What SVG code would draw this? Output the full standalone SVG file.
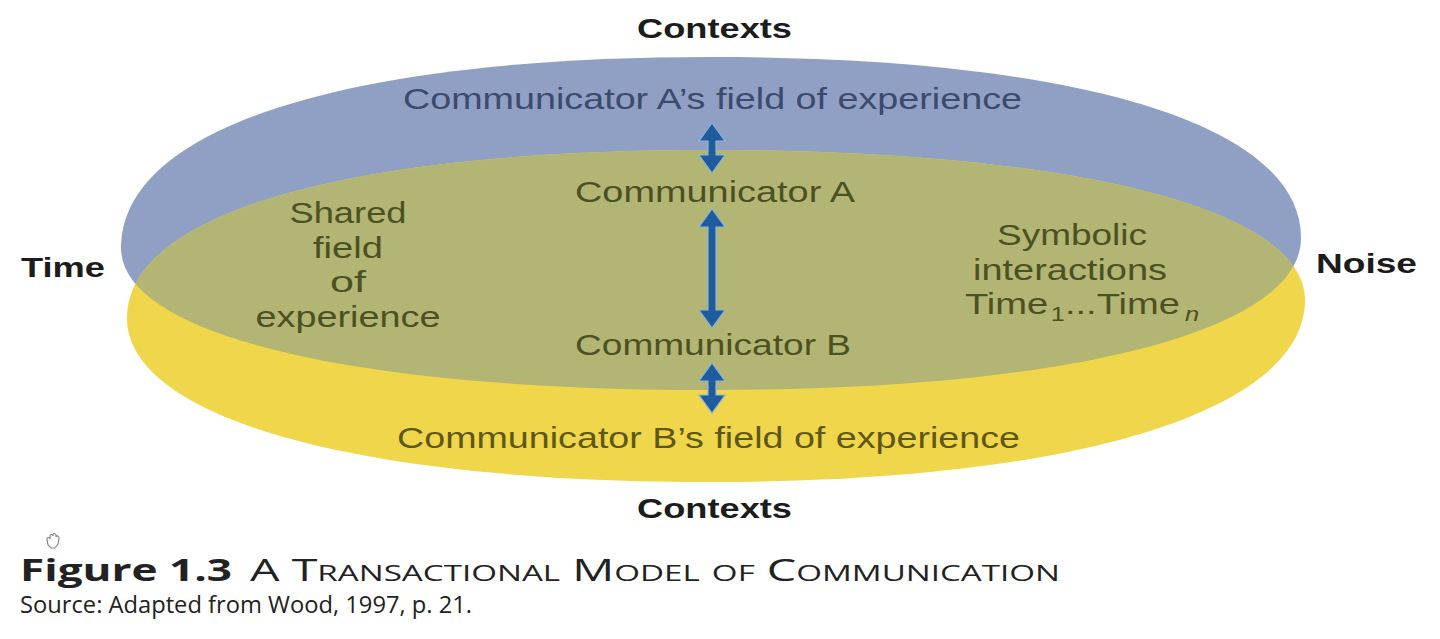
<svg xmlns="http://www.w3.org/2000/svg" width="1440" height="639" viewBox="0 0 1440 639">
  <defs>
    <style>
      .lbl { font-family: "Liberation Sans", Arial, sans-serif; font-weight: bold; font-size: 28px; fill: #1c1c1c; }
      .in { font-family: "Liberation Sans", Arial, sans-serif; font-size: 30px; }
      .ta { fill: #3c4a6c; }
      .to { fill: #4b5121; }
      .ty { fill: #5f5716; }
      .cap { font-family: "Open Sans", "Liberation Sans", sans-serif; fill: #222; }
      .arrow { fill: #1f5c9e; stroke: #8db3d9; stroke-width: 1.2; }
    </style>
    <path id="blueShape" d="M121,248 C121,128 344,57 710,57 C1078,57 1301,124 1301,238 C1301,329 1078,390 710,390 C344,390 121,333 121,248 Z"/>
    <path id="yellowShape" d="M127,318 C127,214 344,150 710,150 C1078,150 1305,210 1305,300 C1305,410 1078,482 710,482 C344,482 127,415 127,318 Z"/>
    <clipPath id="clipBlue">
      <use href="#blueShape"/>
    </clipPath>
  </defs>

  <rect width="1440" height="639" fill="#ffffff"/>

  <g id="field-a">
    <use href="#blueShape" fill="#8fa0c4"/>
  </g>
  <g id="field-b">
    <use href="#yellowShape" fill="#f0d64a"/>
  </g>
  <g id="shared-field">
    <use href="#yellowShape" fill="#b3b574" clip-path="url(#clipBlue)"/>
  </g>

  <g id="field-a-label">
    <text class="in ta" x="403" y="109" textLength="619" lengthAdjust="spacingAndGlyphs">Communicator A’s field of experience</text>
  </g>
  <g id="field-b-label">
    <text class="in ty" x="397" y="448" textLength="623" lengthAdjust="spacingAndGlyphs">Communicator B’s field of experience</text>
  </g>
  <g id="shared-label">
    <text class="in to" x="348" y="223" text-anchor="middle" textLength="117" lengthAdjust="spacingAndGlyphs">Shared</text>
    <text class="in to" x="348" y="258" text-anchor="middle" textLength="70" lengthAdjust="spacingAndGlyphs">field</text>
    <text class="in to" x="348" y="292" text-anchor="middle" textLength="36" lengthAdjust="spacingAndGlyphs">of</text>
    <text class="in to" x="348" y="327" text-anchor="middle" textLength="185" lengthAdjust="spacingAndGlyphs">experience</text>
  </g>
  <g id="communicator-a">
    <text class="in to" x="575" y="202" textLength="280" lengthAdjust="spacingAndGlyphs">Communicator A</text>
  </g>
  <g id="communicator-b">
    <text class="in to" x="575" y="355" textLength="276" lengthAdjust="spacingAndGlyphs">Communicator B</text>
  </g>
  <g id="symbolic-interactions">
    <text class="in to" x="1072" y="245" text-anchor="middle" textLength="150" lengthAdjust="spacingAndGlyphs">Symbolic</text>
    <text class="in to" x="1070" y="280" text-anchor="middle" textLength="194" lengthAdjust="spacingAndGlyphs">interactions</text>
    <g transform="translate(965,314) scale(1.27,1)">
      <text class="in to" x="0" y="0" font-size="29">Time<tspan font-size="20" dy="7" dx="2">1</tspan><tspan dy="-7">...Time</tspan><tspan font-size="20" font-style="italic" dy="7" dx="4">n</tspan></text>
    </g>
  </g>

  <g id="connectors">
    <path class="arrow" d="M712,123 L725,141 L716,141 L716,155 L725,155 L712,173 L699,155 L708,155 L708,141 L699,141 Z"/>
    <path class="arrow" d="M712,209 L725,227 L716,227 L716,310 L725,310 L712,328 L699,310 L708,310 L708,227 L699,227 Z"/>
    <path class="arrow" d="M712,363 L725,381 L716,381 L716,395 L725,395 L712,413 L699,395 L708,395 L708,381 L699,381 Z"/>
  </g>

  <g id="outer-labels">
    <text class="lbl" x="637" y="38" textLength="155" lengthAdjust="spacingAndGlyphs">Contexts</text>
    <text class="lbl" x="637" y="518" textLength="155" lengthAdjust="spacingAndGlyphs">Contexts</text>
    <text class="lbl" x="21" y="277" textLength="84" lengthAdjust="spacingAndGlyphs">Time</text>
    <text class="lbl" x="1316" y="273" textLength="101" lengthAdjust="spacingAndGlyphs">Noise</text>
  </g>

  <g id="caption">
    <path d="M48,545 L47,539 C47,537 49,537 50,539 L50,536 C50,534 52,534 53,536 L53,535 C53,533 55,533 56,535 L56,537 C57,535 59,536 59,538 L58,544 L55,548 L51,548 Z" fill="none" stroke="#888" stroke-width="1.2"/>
    <text class="cap" x="20" y="581" font-size="30" font-weight="bold" textLength="212" lengthAdjust="spacingAndGlyphs">Figure 1.3</text>
    <text class="cap" x="250" y="581" font-size="31" font-weight="500" style="font-variant: small-caps" textLength="810" lengthAdjust="spacingAndGlyphs">A Transactional Model of Communication</text>
    <text class="cap" x="20" y="613" font-size="23" fill="#333" textLength="452" lengthAdjust="spacingAndGlyphs">Source: Adapted from Wood, 1997, p. 21.</text>
  </g>
</svg>
